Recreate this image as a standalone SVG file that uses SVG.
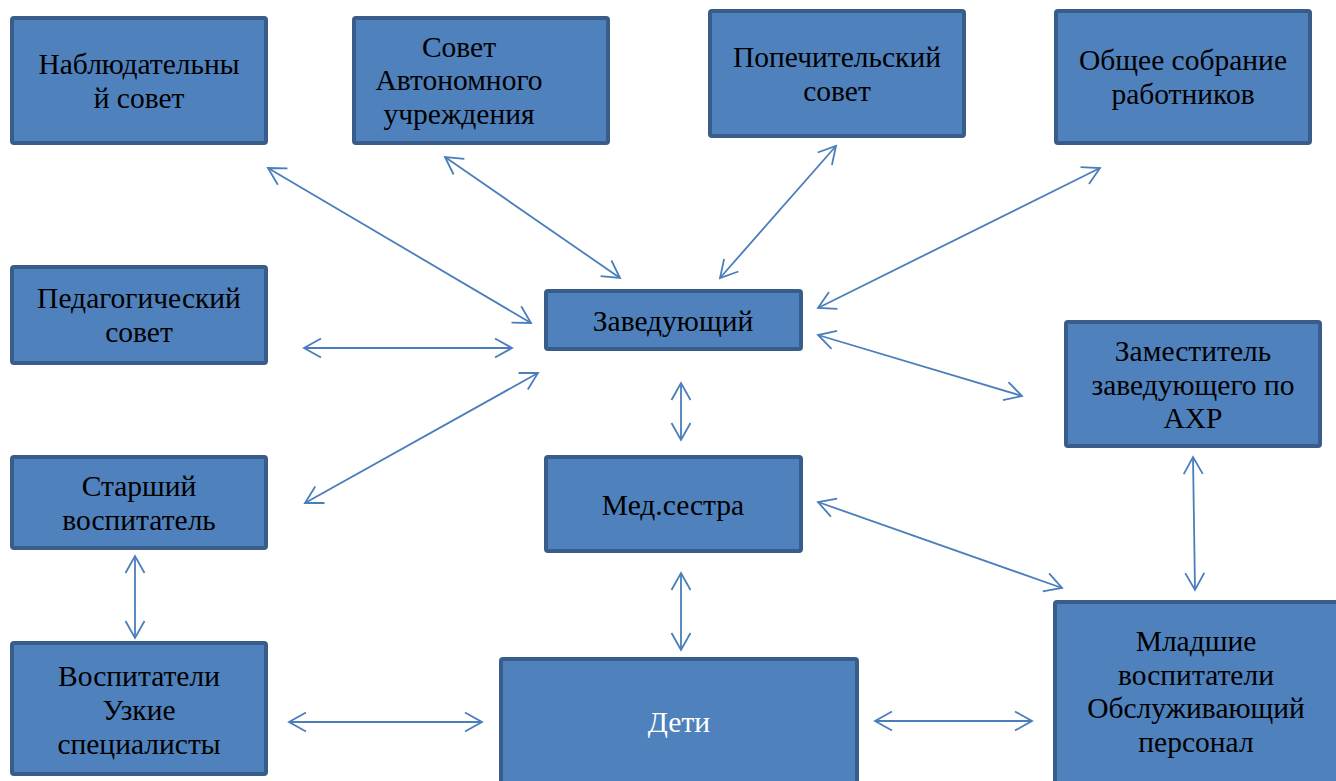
<svg xmlns="http://www.w3.org/2000/svg" width="1336" height="781" viewBox="0 0 1336 781">
<defs>
<style>
.box{fill:#4F81BD;stroke:#385D8A;stroke-width:4}
.t{font-family:"Liberation Serif","Times New Roman","DejaVu Serif",serif;font-size:29.5px;fill:#000;text-anchor:middle}
.w{fill:#fff}
.c line{stroke:#4A7EBB;stroke-width:1.8;fill:none;marker-start:url(#ah);marker-end:url(#ah)}
</style>
<marker id="ah" viewBox="0 0 24 24" refX="20" refY="12" markerWidth="24" markerHeight="24" markerUnits="userSpaceOnUse" orient="auto-start-reverse">
<path d="M3,2.5 L20,12 L3,21.5" fill="none" stroke="#4A7EBB" stroke-width="1.8"/>
</marker>
</defs>
<rect width="1336" height="781" fill="#fff"/>
<g class="c" id="connectors">
<line x1="268" y1="168" x2="531" y2="323"/>
<line x1="445" y1="157" x2="620" y2="278"/>
<line x1="836" y1="146" x2="720" y2="278"/>
<line x1="1100" y1="168" x2="818" y2="308"/>
<line x1="304" y1="348" x2="512" y2="348"/>
<line x1="538" y1="373" x2="305" y2="503"/>
<line x1="818" y1="335" x2="1022" y2="396"/>
<line x1="681" y1="383" x2="681" y2="440"/>
<line x1="818" y1="502" x2="1062" y2="588"/>
<line x1="1193" y1="457" x2="1195" y2="590"/>
<line x1="135" y1="556" x2="135" y2="638"/>
<line x1="681" y1="573" x2="681" y2="650"/>
<line x1="289" y1="722" x2="482" y2="722"/>
<line x1="875" y1="721" x2="1032" y2="721"/>
</g>
<g id="n1"><rect class="box" x="12" y="18" width="254" height="125" rx="2"/><text class="t" x="139" y="74">Наблюдательны</text><text class="t" x="139" y="108">й совет</text></g>
<g id="n2"><rect class="box" x="354" y="18" width="254" height="125" rx="2"/><text class="t" x="459" y="57">Совет</text><text class="t" x="459" y="90">Автономного</text><text class="t" x="459" y="124">учреждения</text></g>
<g id="n3"><rect class="box" x="710" y="11" width="254" height="125" rx="2"/><text class="t" x="837" y="67">Попечительский</text><text class="t" x="837" y="101">совет</text></g>
<g id="n4"><rect class="box" x="1056" y="11" width="254" height="132" rx="2"/><text class="t" x="1183" y="70">Общее собрание</text><text class="t" x="1183" y="104">работников</text></g>
<g id="n5"><rect class="box" x="12" y="267" width="254" height="96" rx="2"/><text class="t" x="139" y="308">Педагогический</text><text class="t" x="139" y="342">совет</text></g>
<g id="n6"><rect class="box" x="546" y="291" width="255" height="58" rx="2"/><text class="t" x="673" y="331">Заведующий</text></g>
<g id="n7"><rect class="box" x="1066" y="322" width="254" height="124" rx="2"/><text class="t" x="1193" y="361">Заместитель</text><text class="t" x="1193" y="395">заведующего по</text><text class="t" x="1193" y="428">АХР</text></g>
<g id="n8"><rect class="box" x="12" y="457" width="254" height="91" rx="2"/><text class="t" x="139" y="496">Старший</text><text class="t" x="139" y="530">воспитатель</text></g>
<g id="n9"><rect class="box" x="546" y="457" width="255" height="94" rx="2"/><text class="t" x="673" y="515">Мед.сестра</text></g>
<g id="n10"><rect class="box" x="12" y="643" width="254" height="131" rx="2"/><text class="t" x="139" y="686">Воспитатели</text><text class="t" x="139" y="720">Узкие</text><text class="t" x="139" y="754">специалисты</text></g>
<g id="n11"><rect class="box" x="501" y="659" width="356" height="124" rx="2"/><text class="t w" x="679" y="732">Дети</text></g>
<g id="n12"><rect class="box" x="1055" y="602" width="290" height="181" rx="2"/><text class="t" x="1196" y="651">Младшие</text><text class="t" x="1196" y="685">воспитатели</text><text class="t" x="1196" y="718">Обслуживающий</text><text class="t" x="1196" y="752">персонал</text></g>
</svg>
